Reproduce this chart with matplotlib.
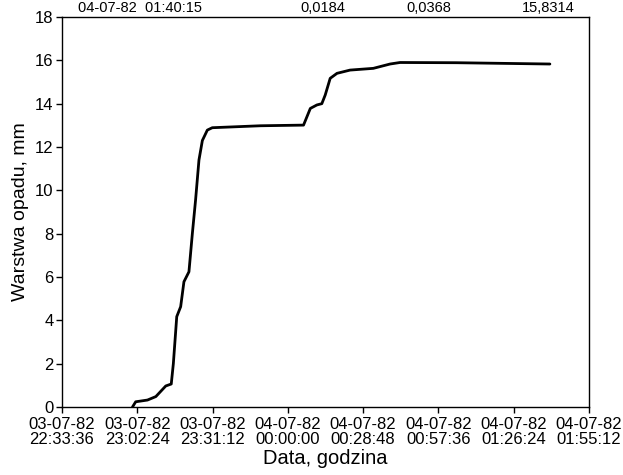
import matplotlib
matplotlib.use("Agg")
import matplotlib.pyplot as plt
import matplotlib.dates as mdates
import pandas as pd

# Cumulative rainfall
times = [
    "1982-07-03 23:00:34", "1982-07-03 23:01:48", "1982-07-03 23:06:18",
    "1982-07-03 23:09:30", "1982-07-03 23:13:18", "1982-07-03 23:15:24",
    "1982-07-03 23:16:12", "1982-07-03 23:17:30", "1982-07-03 23:19:00",
    "1982-07-03 23:20:15", "1982-07-03 23:22:10", "1982-07-03 23:23:28",
    "1982-07-03 23:24:42", "1982-07-03 23:26:00", "1982-07-03 23:27:18",
    "1982-07-03 23:29:12", "1982-07-03 23:31:06", "1982-07-03 23:49:30",
    "1982-07-04 00:06:00", "1982-07-04 00:08:36", "1982-07-04 00:11:06",
    "1982-07-04 00:13:00", "1982-07-04 00:14:18", "1982-07-04 00:16:12",
    "1982-07-04 00:18:48", "1982-07-04 00:23:48", "1982-07-04 00:32:42",
    "1982-07-04 00:39:06", "1982-07-04 00:42:54", "1982-07-04 01:04:30",
    "1982-07-04 01:40:15",
]
rain_mm = [
    0.0, 0.24, 0.32, 0.48, 0.97, 1.06, 2.0, 4.17, 4.63, 5.78, 6.24, 8.0,
    9.55, 11.4, 12.3, 12.78, 12.89, 12.98, 13.01, 13.78, 13.94, 14.0, 14.4,
    15.17, 15.4, 15.55, 15.63, 15.83, 15.9, 15.89, 15.83,
]
tick_times = [
    "1982-07-03 22:33:36", "1982-07-03 23:02:24", "1982-07-03 23:31:12",
    "1982-07-04 00:00:00", "1982-07-04 00:28:48", "1982-07-04 00:57:36",
    "1982-07-04 01:26:24", "1982-07-04 01:55:12",
]
y_ticks = [0, 2, 4, 6, 8, 10, 12, 14, 16, 18]

# last row of the table printed above the chart
top_row = ["04-07-82  01:40:15", "0,0184", "0,0368", "15,8314"]

plt.rcParams["font.family"] = ["Liberation Sans", "DejaVu Sans"]

t = pd.to_datetime(times)
ticks = pd.to_datetime(tick_times)

fig = plt.figure(figsize=(6.23, 4.75), dpi=100)
ax = fig.add_axes([0.0995, 0.1432, 0.8459, 0.8210])

ax.plot(t, rain_mm, color="black", lw=2.0, solid_capstyle="round")

ax.set_xlim(ticks[0], ticks[-1])
ax.set_ylim(0, 18)
ax.set_xticks(ticks)
ax.xaxis.set_major_formatter(mdates.DateFormatter("%d-%m-%y\n%H:%M:%S"))
ax.set_yticks(y_ticks)

for lbl in ax.get_xticklabels():
    lbl.set_linespacing(1.0)
ax.tick_params(axis="both", direction="out", length=4, width=1, labelsize=12, colors="black")
ax.tick_params(axis="x", pad=3)
ax.tick_params(axis="y", pad=2)

for s in ax.spines.values():
    s.set_linewidth(1.0)

ax.set_xlabel("Data, godzina", fontsize=14.5, labelpad=2)
ax.set_ylabel("Warstwa opadu, mm", fontsize=14, labelpad=4)

# the scan cuts this row off at the top; keep it just inside the figure
top = 1 - 12 / 475
fig.text(78 / 623, top, top_row[0], fontsize=10.5, va="baseline", ha="left")
fig.text(345 / 623, top, top_row[1], fontsize=10.5, va="baseline", ha="right")
fig.text(406 / 623, top, top_row[2], fontsize=10.5, va="baseline", ha="left")
fig.text(522 / 623, top, top_row[3], fontsize=10.5, va="baseline", ha="left")

fig.savefig("out.png", dpi=100)
